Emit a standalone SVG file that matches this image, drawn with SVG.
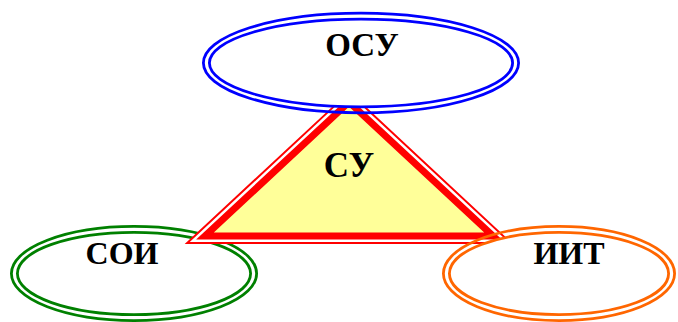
<svg xmlns="http://www.w3.org/2000/svg" width="678" height="322" viewBox="0 0 678 322">
<style>
.lbl{font-family:"Liberation Serif","Times New Roman",serif;font-weight:bold;fill:#000;text-anchor:middle}
.ln{stroke-width:2.8}
</style>
<rect width="678" height="322" fill="#fff"/>
<g id="soi">
<ellipse cx="134" cy="273.5" rx="122.6" ry="47.1" fill="none" stroke="#008000" class="ln"/>
<ellipse cx="134" cy="273.5" rx="116.6" ry="41.1" fill="#fff" stroke="#008000" class="ln"/>
<text x="122" y="264" class="lbl" font-size="32">СОИ</text>
</g>
<g id="su">
<polygon points="349,102 205,236 493,236" fill="none" stroke="#f00" stroke-width="16"/>
<polygon points="349,102 205,236 493,236" fill="none" stroke="#fff" stroke-width="12"/>
<polygon points="349,102 205,236 493,236" fill="#ffff99" stroke="#f00" stroke-width="7"/>
<text x="349" y="177" class="lbl" font-size="35">СУ</text>
</g>
<g id="osu">
<ellipse cx="361" cy="63" rx="157.6" ry="49.8" fill="none" stroke="#0000ff" class="ln"/>
<ellipse cx="361" cy="63" rx="151.6" ry="43.8" fill="#fff" stroke="#0000ff" class="ln"/>
<text x="362" y="56" class="lbl" font-size="33">ОСУ</text>
</g>
<g id="iit">
<ellipse cx="559" cy="273.5" rx="115.6" ry="47.1" fill="none" stroke="#ff6600" class="ln"/>
<ellipse cx="559" cy="273.5" rx="109.6" ry="41.1" fill="#fff" stroke="#ff6600" class="ln"/>
<text x="569" y="264" class="lbl" font-size="32">ИИТ</text>
</g>
<g id="connectors"></g>
</svg>
